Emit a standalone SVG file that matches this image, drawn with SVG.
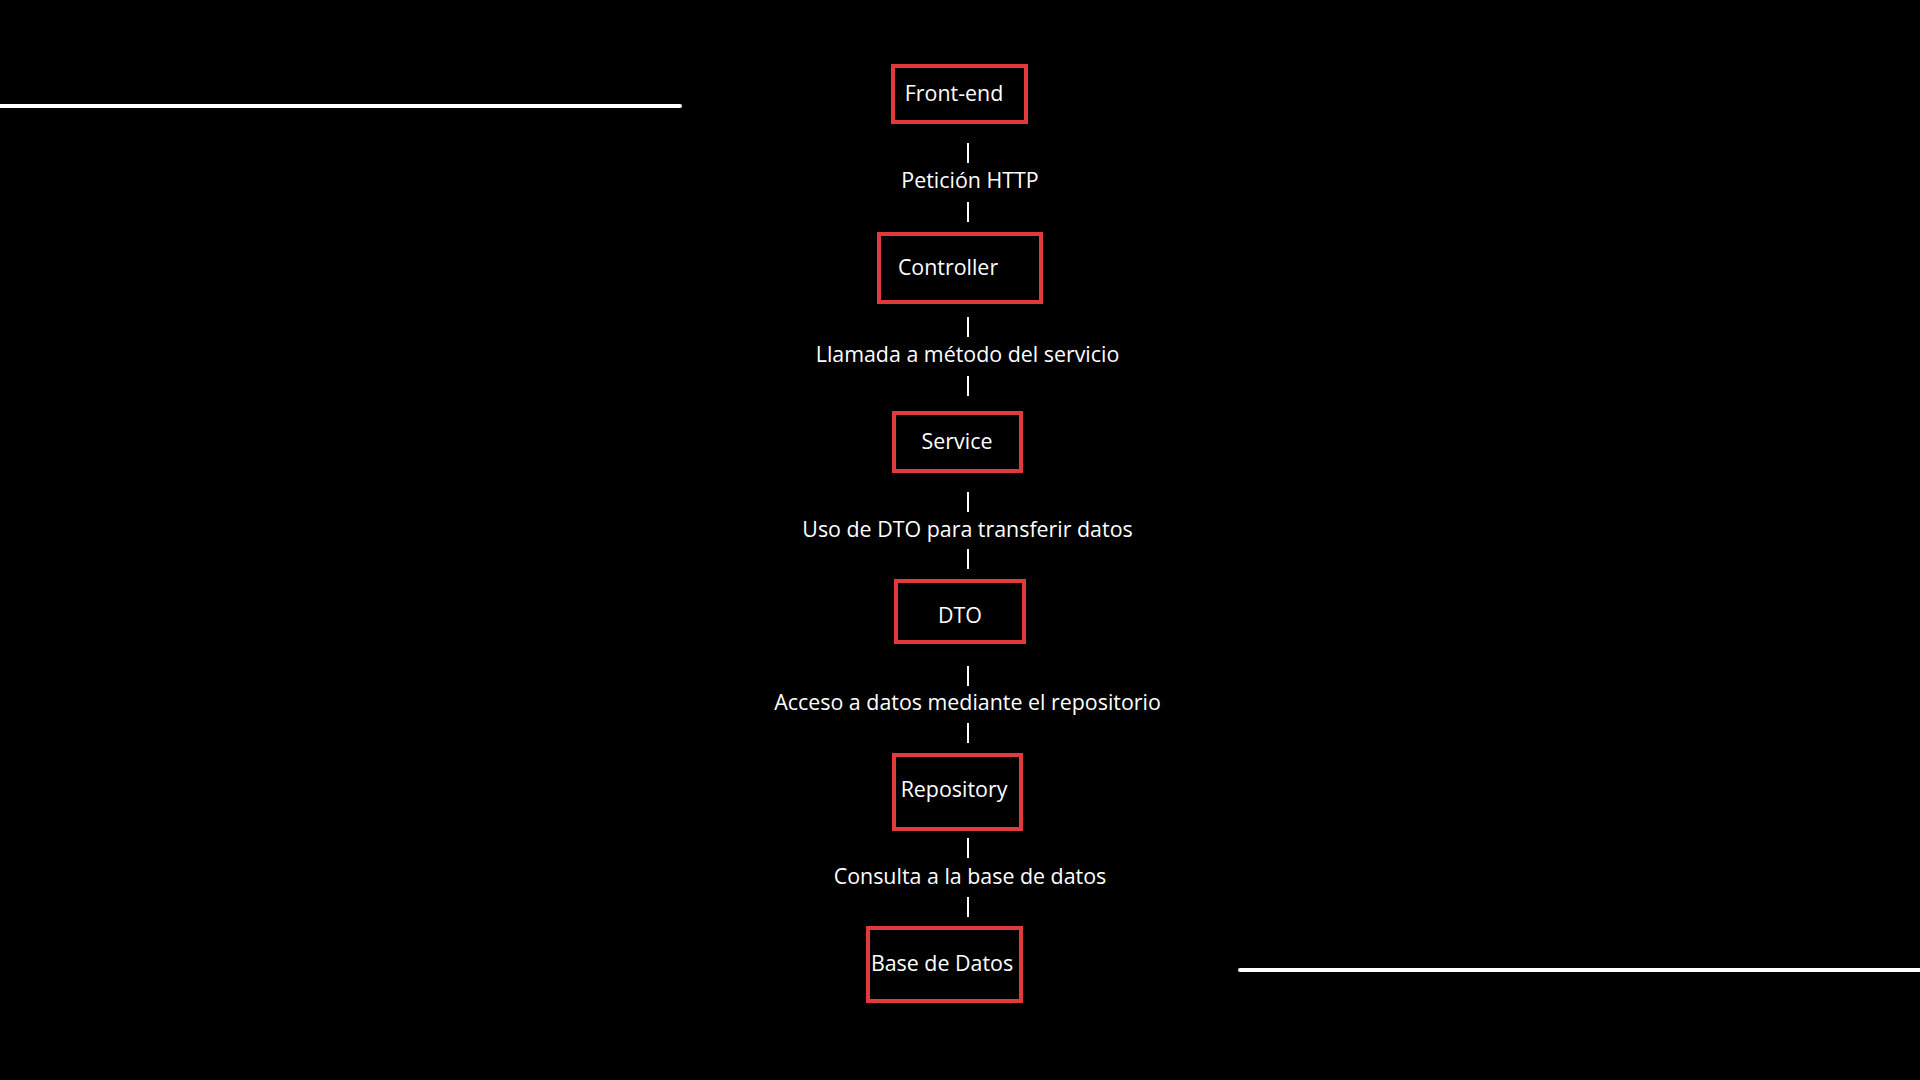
<svg xmlns="http://www.w3.org/2000/svg" width="1920" height="1080" viewBox="0 0 1920 1080">
  <style>
    .box { fill: #000000; stroke: #e03a3c; stroke-width: 4; }
    .t { font-family: "Open Sans", "Noto Sans", "DejaVu Sans", sans-serif; font-size: 21.4px; fill: #ffffff; text-anchor: middle; }
    .pipe { stroke: #ffffff; stroke-width: 2; }
    .rule { stroke: #ffffff; stroke-width: 4; stroke-linecap: round; }
  </style>
  <rect x="0" y="0" width="1920" height="1080" fill="#000000"/>
  <g id="decor">
    <line class="rule" x1="0" y1="106" x2="680" y2="106"/>
    <line class="rule" x1="1240" y1="970" x2="1920" y2="970"/>
  </g>
  <g id="connectors">
    <line class="pipe" x1="968" y1="143" x2="968" y2="163"/>
    <line class="pipe" x1="968" y1="202" x2="968" y2="222"/>
    <text class="t" x="970" y="188">Petición HTTP</text>
    <line class="pipe" x1="968" y1="317" x2="968" y2="337"/>
    <line class="pipe" x1="968" y1="376" x2="968" y2="396"/>
    <text class="t" x="967.5" y="362">Llamada a método del servicio</text>
    <line class="pipe" x1="968" y1="492" x2="968" y2="512"/>
    <line class="pipe" x1="968" y1="549" x2="968" y2="569"/>
    <text class="t" x="967.5" y="537">Uso de DTO para transferir datos</text>
    <line class="pipe" x1="968" y1="666" x2="968" y2="686"/>
    <line class="pipe" x1="968" y1="723" x2="968" y2="743"/>
    <text class="t" x="967.5" y="710">Acceso a datos mediante el repositorio</text>
    <line class="pipe" x1="968" y1="838" x2="968" y2="858"/>
    <line class="pipe" x1="968" y1="897" x2="968" y2="917"/>
    <text class="t" x="970" y="884">Consulta a la base de datos</text>
  </g>
  <g id="node-frontend">
    <rect class="box" x="893" y="66" width="133" height="56"/>
    <text class="t" x="954" y="101">Front-end</text>
  </g>
  <g id="node-controller">
    <rect class="box" x="879" y="234" width="162" height="68"/>
    <text class="t" x="948" y="275">Controller</text>
  </g>
  <g id="node-service">
    <rect class="box" x="894" y="413" width="127" height="58"/>
    <text class="t" x="957" y="449">Service</text>
  </g>
  <g id="node-dto">
    <rect class="box" x="896" y="581" width="128" height="61"/>
    <text class="t" x="960" y="623">DTO</text>
  </g>
  <g id="node-repository">
    <rect class="box" x="894" y="755" width="127" height="74"/>
    <text class="t" x="954" y="797">Repository</text>
  </g>
  <g id="node-basededatos">
    <rect class="box" x="868" y="928" width="153" height="73"/>
    <text class="t" x="942" y="971">Base de Datos</text>
  </g>
</svg>
